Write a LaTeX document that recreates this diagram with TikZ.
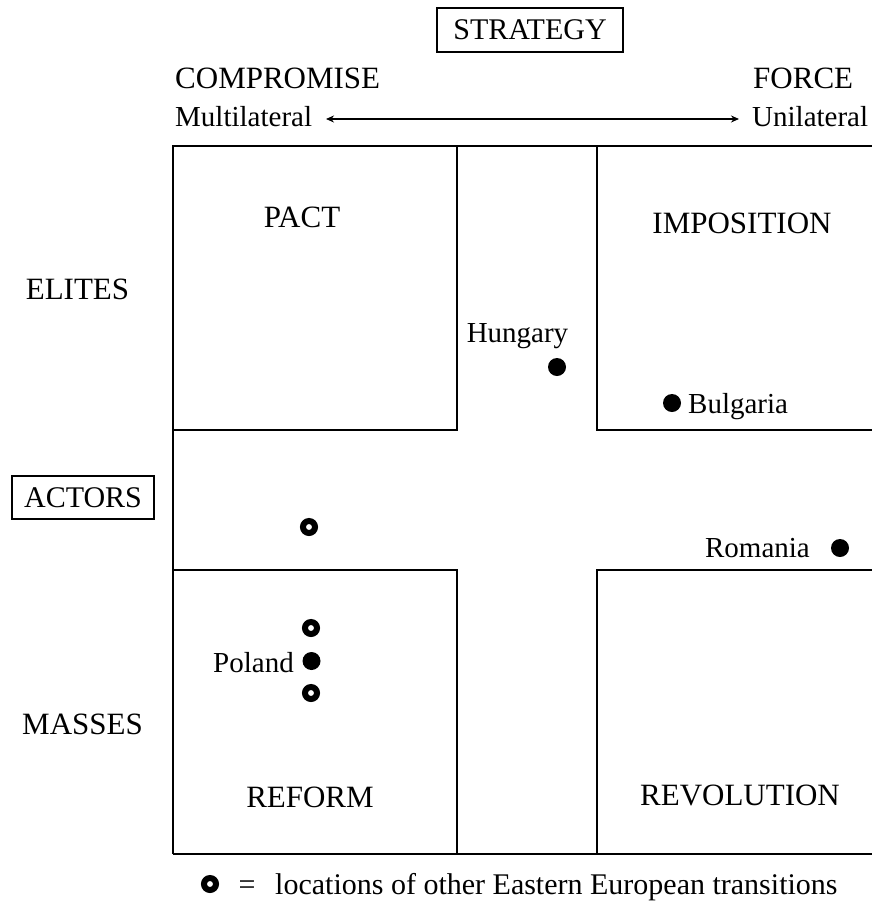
\documentclass[tikz,border=0pt]{standalone}
\usepackage{fontspec}
\setmainfont{Liberation Serif}
\usetikzlibrary{arrows.meta}
\tikzset{
  capl/.style={inner sep=0pt, font=\fontsize{31}{36}\selectfont},
  lowl/.style={inner sep=0pt, font=\fontsize{29}{34}\selectfont},
  legl/.style={inner sep=0pt, font=\fontsize{30}{35}\selectfont},
  boxl/.style={draw, line width=1.5pt, inner sep=0pt, font=\fontsize{30}{35}\selectfont},
  frame/.style={line width=1.6pt},
  dotmark/.style={circle, fill=black, inner sep=0pt, minimum size=18pt},
  hollowmark/.style={circle, draw=black, fill=white, line width=6pt, inner sep=0pt, minimum size=12pt},
  axisarrow/.style={line width=1.3pt, {Stealth[length=8pt,width=7pt]}-{Stealth[length=8pt,width=7pt]}}
}
\begin{document}
\begin{tikzpicture}[x=1pt,y=-1pt]
\useasboundingbox (0,0) rectangle (872,903);
\fill[white] (0,0) rectangle (872,903);
% frame
\draw[frame] (173,854) -- (173,146) -- (872,146);
\draw[frame] (173,854) -- (872,854);
\draw[frame] (457,146) -- (457,430) -- (173,430);
\draw[frame] (597,146) -- (597,430) -- (872,430);
\draw[frame] (173,570) -- (457,570) -- (457,854);
\draw[frame] (872,570) -- (597,570) -- (597,854);
% headings
\node[boxl, minimum width=186pt, minimum height=44pt] (strategy) at (530,30) {STRATEGY};
\node[boxl, minimum width=142pt, minimum height=43pt] (actors) at (83,497.5) {ACTORS};
\node[capl, anchor=base west] (compromise) at (175,88) {COMPROMISE};
\node[capl, anchor=base west] (force) at (753,88) {FORCE};
\node[lowl, anchor=base west] (multi) at (175,126) {Multilateral};
\node[lowl, anchor=base west] (uni) at (752,126) {Unilateral};
\coordinate (arrL) at (326,119);
\coordinate (arrR) at (739,119);
\draw[axisarrow] (arrL) -- (arrR);
% row labels
\node[capl, anchor=base] (elites) at (77.5,299) {ELITES};
\node[capl, anchor=base] (masses) at (82.5,734) {MASSES};
% quadrant labels
\node[capl, anchor=base] (pact) at (302,227) {PACT};
\node[capl, anchor=base] (imposition) at (742,233) {IMPOSITION};
\node[capl, anchor=base] (reform) at (310,807) {REFORM};
\node[capl, anchor=base] (revolution) at (740,805) {REVOLUTION};
% countries
\node[lowl, anchor=base] (hungary) at (517.5,342) {Hungary};
\node[dotmark] (hungarydot) at (557,367) {};
\node[dotmark] (bulgariadot) at (672,403) {};
\node[lowl, anchor=base west] (bulgaria) at (688,413) {Bulgaria};
\node[lowl, anchor=base east] (romania) at (810,557) {Romania};
\node[dotmark] (romaniadot) at (840,548) {};
\node[lowl, anchor=base east] (poland) at (294,672) {Poland};
\node[dotmark] (polanddot) at (311.5,661) {};
\node[hollowmark] (h1) at (309,527) {};
\node[hollowmark] (h2) at (311,628) {};
\node[hollowmark] (h3) at (311,693) {};
% legend
\node[hollowmark] (legmark) at (210,884) {};
\node[legl, anchor=base] (legeq) at (247,894) {=};
\node[legl, anchor=base west] (legtext) at (275,894) {locations of other Eastern European transitions};
\end{tikzpicture}
\end{document}
